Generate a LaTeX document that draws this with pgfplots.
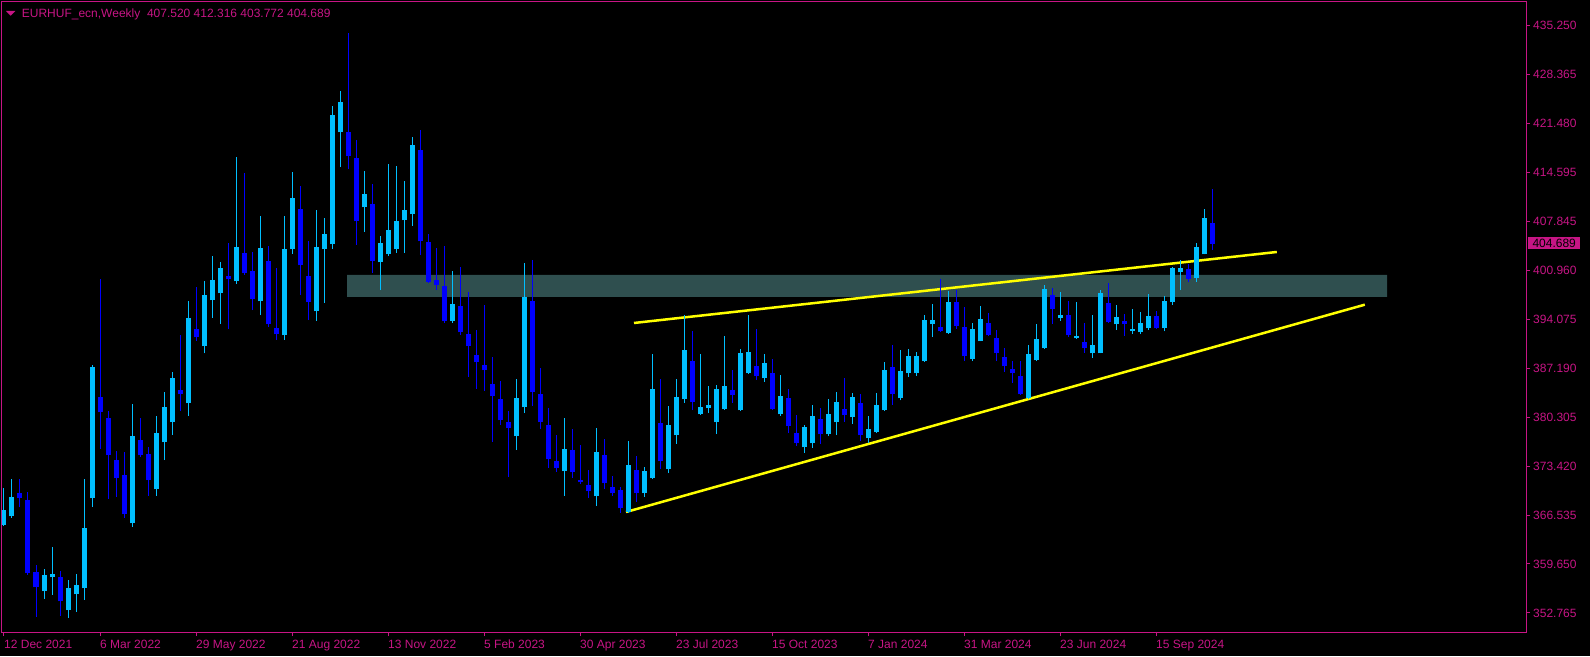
\documentclass[border=0pt]{standalone}
\usepackage{fontspec}
\setmainfont{Liberation Sans}
\usepackage{pgfplots}
\usepackage{pgfplotstable}
\pgfplotsset{compat=1.18}

\definecolor{mtfg}{HTML}{C71585}
\definecolor{bull}{HTML}{00BFFF}
\definecolor{bear}{HTML}{0000FF}
\definecolor{zone}{HTML}{2F4F4F}
\definecolor{trend}{HTML}{FFFF00}

% weekly candles: index, open, high, low, close
\pgfplotstableread{
i o h l c
0 365.11 370.31 364.97 367.22
1 366.38 371.57 366.15 369.05
2 369.61 371.57 367.64 368.95
3 368.63 369.75 358.10 358.38
4 358.52 359.50 352.20 356.41
5 355.85 358.94 354.73 358.10
6 357.81 362.03 355.29 358.24
7 357.81 358.66 352.34 354.44
8 353.18 357.39 352.06 356.27
9 355.43 358.24 352.90 356.69
10 356.27 371.57 354.59 364.70
11 368.91 387.58 367.64 387.30
12 383.09 399.66 375.79 380.98
13 380.14 381.12 368.77 374.94
14 374.24 375.51 369.05 371.71
15 372.14 375.37 366.10 366.66
16 365.39 382.11 364.83 377.61
17 377.05 380.14 374.66 374.94
18 375.08 376.07 369.19 371.43
19 370.17 380.42 369.19 378.03
20 376.77 383.79 374.24 381.68
21 379.58 386.60 377.75 385.76
22 384.07 391.79 381.12 383.51
23 382.25 396.57 380.42 394.18
24 392.63 398.53 390.95 391.51
25 390.25 399.37 389.20 397.41
26 396.71 402.89 394.18 399.52
27 397.69 402.04 393.34 401.20
28 400.08 404.71 392.63 399.66
29 399.37 416.79 398.95 404.15
30 403.31 414.54 400.22 400.50
31 400.78 403.45 395.30 396.85
32 396.57 408.50 394.60 404.01
33 402.18 404.29 392.92 393.34
34 392.77 401.20 391.09 391.93
35 391.79 408.50 391.09 403.87
36 403.87 414.68 403.17 411.03
37 409.48 412.71 397.41 401.62
38 400.08 404.99 393.90 396.43
39 395.16 409.34 393.76 404.15
40 403.87 408.22 396.29 405.97
41 404.57 423.95 403.87 422.68
42 420.30 426.05 415.38 424.51
43 420.30 434.20 415.10 416.93
44 416.65 419.17 404.43 407.80
45 409.77 414.82 406.26 411.59
46 410.19 412.99 400.50 402.18
47 402.04 405.69 398.11 404.71
48 403.17 415.80 402.89 406.54
49 403.87 415.52 403.31 407.80
50 407.94 413.42 403.31 409.34
51 408.78 419.59 407.10 418.47
52 417.77 420.58 403.03 404.99
53 404.85 405.97 399.09 399.23
54 399.52 404.01 398.11 398.81
55 398.67 404.29 393.48 393.76
56 393.76 400.78 393.48 396.15
57 395.86 401.34 391.79 392.22
58 391.93 397.83 385.90 390.25
59 388.98 392.50 384.21 388.00
60 387.58 396.00 383.93 386.88
61 384.91 388.70 376.77 383.23
62 382.81 385.33 379.16 379.86
63 379.58 381.12 371.85 378.73
64 377.61 385.61 375.65 382.95
65 381.68 401.90 380.84 397.13
66 396.57 402.32 381.82 383.79
67 383.51 387.16 378.59 379.58
68 379.16 381.54 373.12 374.38
69 374.10 377.75 372.56 373.12
70 372.70 380.14 369.19 375.79
71 375.65 378.59 371.71 372.56
72 371.43 376.35 370.87 371.15
73 370.73 372.84 368.90 369.89
74 369.19 378.73 367.78 375.37
75 374.94 377.19 370.17 371.01
76 370.45 371.99 369.19 369.61
77 370.03 370.45 366.80 367.50
78 366.94 376.91 366.80 373.54
79 372.84 374.80 368.34 369.61
80 369.61 373.26 369.05 372.70
81 371.71 389.12 371.57 384.21
82 379.44 385.62 372.98 374.10
83 372.98 381.82 372.40 379.16
84 377.75 385.62 376.49 383.09
85 382.81 394.60 382.25 389.69
86 388.14 392.36 381.26 382.39
87 380.70 389.13 380.60 381.68
88 381.54 384.63 380.84 381.97
89 379.58 384.77 377.89 384.21
90 381.40 391.65 381.30 384.63
91 384.07 386.88 382.25 383.37
92 381.26 389.83 381.10 389.27
93 386.47 394.60 386.32 389.41
94 387.44 392.64 385.48 386.04
95 385.76 389.13 385.20 387.86
96 386.47 388.42 381.30 381.40
97 380.70 386.18 380.42 383.23
98 382.95 384.21 378.03 379.02
99 378.03 380.56 376.21 376.63
100 376.07 379.16 375.23 378.88
101 376.63 381.97 375.93 380.42
102 380.00 381.54 376.49 377.89
103 377.89 382.81 377.61 380.70
104 379.58 383.79 377.75 382.39
105 381.40 385.76 379.58 380.56
106 380.28 383.65 379.30 383.09
107 382.25 383.51 376.91 377.75
108 377.33 380.42 376.63 378.60
109 378.17 383.65 378.00 381.97
110 381.26 388.00 381.12 386.88
111 387.30 390.39 381.97 383.51
112 382.95 389.69 382.60 386.74
113 386.46 389.83 385.90 388.85
114 386.46 389.41 386.04 388.85
115 388.14 394.60 388.00 393.90
116 393.34 396.15 391.51 393.90
117 392.92 399.66 392.22 392.36
118 392.07 397.97 391.93 396.43
119 396.43 398.11 392.64 393.06
120 392.92 395.73 388.14 388.85
121 388.42 393.48 388.14 392.64
122 390.95 395.86 390.90 394.04
123 393.48 394.88 391.65 391.79
124 391.37 392.50 388.14 389.27
125 388.70 389.97 386.60 387.44
126 387.02 388.14 385.05 386.46
127 386.04 388.14 383.37 383.51
128 382.95 390.39 382.81 389.13
129 388.28 393.34 388.14 391.23
130 389.97 398.81 389.83 398.25
131 397.41 398.39 393.34 395.44
132 394.18 397.83 393.76 394.60
133 394.60 396.57 391.51 391.79
134 391.37 396.43 391.30 391.65
135 390.81 393.48 389.27 389.97
136 389.27 394.60 388.56 390.39
137 389.27 398.11 389.20 397.69
138 396.29 399.09 393.48 393.62
139 393.34 396.00 392.50 394.32
140 393.76 394.74 391.65 393.34
141 392.36 395.44 391.93 392.64
142 392.20 395.02 391.90 393.48
143 392.78 397.55 392.50 394.46
144 394.46 395.16 392.63 392.78
145 392.78 397.27 392.30 396.57
146 396.43 401.30 396.00 401.20
147 400.64 402.32 398.11 401.20
148 401.06 401.76 399.23 399.66
149 399.80 404.71 399.23 404.15
150 403.17 409.48 403.10 408.22
151 407.52 412.316 403.772 404.689
}\weeks

\begin{document}
\begin{tikzpicture}
\path[use as bounding box] (0pt,0pt) rectangle (1590pt,656pt);
\fill[black] (0pt,0pt) rectangle (1590pt,656pt);

\begin{axis}[
  at={(2pt,24pt)}, anchor=south west,
  scale only axis, width=1524pt, height=630pt,
  xmin=-0.25, xmax=190.25, ymin=350.09, ymax=438.55,
  axis background/.style={fill=black},
  axis line style={mtfg, line width=1pt},
  every tick/.style={mtfg, line width=1pt},
  tick align=outside, major tick length=4pt,
  xtick pos=left, ytick pos=right,
  xtick={0,12,...,144},
  xticklabels={12 Dec 2021, 6 Mar 2022, 29 May 2022, 21 Aug 2022, 13 Nov 2022, 5 Feb 2023, 30 Apr 2023, 23 Jul 2023, 15 Oct 2023, 7 Jan 2024, 31 Mar 2024, 23 Jun 2024, 15 Sep 2024},
  ytick={352.765,359.639,366.513,373.386,380.260,387.134,394.008,400.881,407.755,414.629,421.503,428.376,435.250},
  yticklabels={352.765,359.650,366.535,373.420,380.305,387.190,394.075,400.960,407.845,414.595,421.480,428.365,435.250},
  tick label style={font=\fontsize{12}{14}\selectfont, text=mtfg, inner sep=0pt},
  xticklabel style={anchor=north west, yshift=-4pt},
  yticklabel style={anchor=west, xshift=3pt},
]

% support / resistance zone
\addplot[fill=zone, draw=none, forget plot]
  coordinates {(42.9,397.13) (172.9,397.13) (172.9,400.22) (42.9,400.22) (42.9,397.13)};

% trend lines
\addplot[trend, line width=2.5pt, forget plot] coordinates {(78.75,393.48) (159.1,403.45)};
\addplot[trend, line width=2.5pt, forget plot] coordinates {(77.75,366.94) (170.1,396.05)};

% wicks: one segment from low up to high
\addplot[draw=none, mark=none, forget plot,
  x filter/.expression={\thisrow{c}>=\thisrow{o} ? x : nan},
  error bars/.cd, y dir=plus, y explicit, error mark=none,
  error bar style={line width=1pt, draw=bull}]
  table[x=i, y=l, y error expr={\thisrow{h}-\thisrow{l}}] {\weeks};
\addplot[draw=none, mark=none, forget plot,
  x filter/.expression={\thisrow{c}<\thisrow{o} ? x : nan},
  error bars/.cd, y dir=plus, y explicit, error mark=none,
  error bar style={line width=1pt, draw=bear}]
  table[x=i, y=l, y error expr={\thisrow{h}-\thisrow{l}}] {\weeks};

% bodies: one thick segment from open to close
\addplot[draw=none, mark=none, forget plot,
  x filter/.expression={\thisrow{c}>=\thisrow{o} ? x : nan},
  error bars/.cd, y dir=plus, y explicit, error mark=none,
  error bar style={line width=5pt, draw=bull}]
  table[x=i, y expr={\thisrow{o}-0.05}, y error expr={\thisrow{c}-\thisrow{o}+0.1}] {\weeks};
\addplot[draw=none, mark=none, forget plot,
  x filter/.expression={\thisrow{c}<\thisrow{o} ? x : nan},
  error bars/.cd, y dir=plus, y explicit, error mark=none,
  error bar style={line width=5pt, draw=bear}]
  table[x=i, y expr={\thisrow{c}-0.05}, y error expr={\thisrow{o}-\thisrow{c}+0.1}] {\weeks};
\end{axis}

% chart header
\fill[mtfg] (6pt,645pt) -- (15.3pt,645pt) -- (10.6pt,640.3pt) -- cycle;
\node[anchor=west, inner sep=0pt, text=mtfg, font=\fontsize{12}{14}\selectfont]
  at (21.7pt,642pt) {EURHUF\_ecn,Weekly\ \ 407.520 412.316 403.772 404.689};

% last price tag
\node[anchor=west, fill=mtfg, text=black, inner sep=0pt, minimum width=52pt, minimum height=12.5pt,
  font=\fontsize{12}{14}\selectfont] at (1528pt,412.8pt) {404.689};
\end{tikzpicture}
\end{document}
